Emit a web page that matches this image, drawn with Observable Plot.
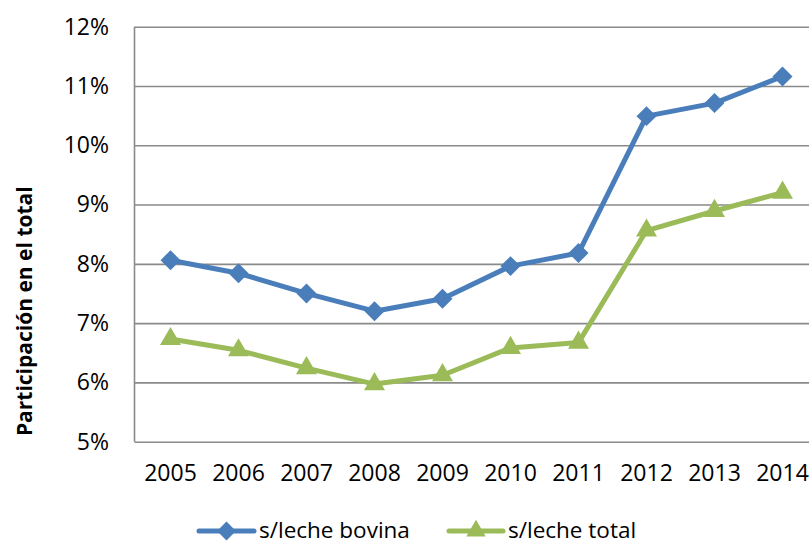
<!DOCTYPE html>
<html>
<head>
<meta charset="utf-8">
<script src="https://cdn.jsdelivr.net/npm/d3@7"></script>
<script src="https://cdn.jsdelivr.net/npm/@observablehq/plot@0.6"></script>
<style>
  html, body { margin: 0; padding: 0; background: #fff; overflow: hidden; }
  #chart { width: 809px; height: 545px; position: relative; font-family: "Open Sans", sans-serif; }
  #legend { position: absolute; left: 0; top: 490px; }
</style>
</head>
<body>
<div id="chart"></div>
<script>
const years = ["2005","2006","2007","2008","2009","2010","2011","2012","2013","2014"];
const bovina = [8.07, 7.85, 7.51, 7.21, 7.42, 7.97, 8.19, 10.50, 10.72, 11.17];
const total  = [6.74, 6.55, 6.25, 5.98, 6.13, 6.59, 6.68, 8.57, 8.90, 9.21];
const yTicks = [5, 6, 7, 8, 9, 10, 11, 12];
const seriesNames = ["s/leche bovina", "s/leche total"];
const colors = ["#4a7ebb", "#9bbb59"];
const yLabel = "Participación en el total";

const rows = [];
years.forEach((yr, i) => {
  rows.push({year: yr, value: bovina[i], serie: seriesNames[0]});
  rows.push({year: yr, value: total[i], serie: seriesNames[1]});
});
const rowsB = rows.filter(d => d.serie === seriesNames[0]);
const rowsT = rows.filter(d => d.serie === seriesNames[1]);

const plot = Plot.plot({
  width: 809,
  height: 490,
  marginLeft: 134.5,
  marginRight: 0,
  marginTop: 26.7,
  marginBottom: 48.3,
  style: {fontFamily: "Open Sans, sans-serif", fontSize: "23px", color: "#000", background: "#fff", overflow: "visible"},
  x: {type: "point", domain: years, range: [134.5, 817.5], padding: 0.5},
  y: {domain: [5, 12], range: [441.7, 26.7]},
  marks: [
    Plot.ruleY(yTicks, {stroke: "#8a8a8a", strokeWidth: 1.6}),
    Plot.axisY({ticks: yTicks, tickSize: 0, tickPadding: 26, tickFormat: d => d + "%", label: null, fontSize: 23}),
    Plot.axisX({tickSize: 0, tickPadding: 22, label: null, fontSize: 23}),
    Plot.line(rowsB, {x: "year", y: "value", stroke: colors[0], strokeWidth: 5}),
    Plot.line(rowsT, {x: "year", y: "value", stroke: colors[1], strokeWidth: 5}),
    Plot.dot(rowsB, {x: "year", y: "value", symbol: "diamond2", r: 9, fill: colors[0], stroke: "none"}),
    Plot.dot(rowsT, {x: "year", y: "value", symbol: "triangle", r: 7.8, fill: colors[1], stroke: "none"}),
    Plot.text([yLabel], {frameAnchor: "left", rotate: -90, dx: -110, dy: 76.5, fontWeight: "bold", fontSize: 21, fill: "#000", textAnchor: "middle", lineAnchor: "middle"})
  ]
});
// vertical axis line on the left
const svgNS = "http://www.w3.org/2000/svg";
const vline = document.createElementNS(svgNS, "line");
vline.setAttribute("x1", 134.5); vline.setAttribute("x2", 134.5);
vline.setAttribute("y1", 26.7); vline.setAttribute("y2", 441.7);
vline.setAttribute("stroke", "#8a8a8a"); vline.setAttribute("stroke-width", 1.6);
plot.appendChild(vline);
document.getElementById("chart").appendChild(plot);

// Legend (below the SVG)
const leg = document.createElementNS(svgNS, "svg");
leg.setAttribute("id", "legend");
leg.setAttribute("width", 809); leg.setAttribute("height", 55);
const items = [
  {x0: 199, x1: 254, tx: 259, sym: "diamond2", r: 8.5},
  {x0: 449, x1: 503, tx: 508, sym: "triangle", r: 7.2}
];
const cy = 41;
items.forEach((it, i) => {
  const l = document.createElementNS(svgNS, "line");
  l.setAttribute("x1", it.x0); l.setAttribute("x2", it.x1);
  l.setAttribute("y1", cy); l.setAttribute("y2", cy);
  l.setAttribute("stroke", colors[i]); l.setAttribute("stroke-width", 5);
  l.setAttribute("stroke-linecap", "round");
  leg.appendChild(l);
  const p = document.createElementNS(svgNS, "path");
  const symType = it.sym === "diamond2" ? d3.symbolDiamond2 : d3.symbolTriangle;
  p.setAttribute("d", d3.symbol(symType, Math.PI * it.r * it.r)());
  p.setAttribute("transform", `translate(${(it.x0 + it.x1) / 2},${cy})`);
  p.setAttribute("fill", colors[i]);
  leg.appendChild(p);
  const t = document.createElementNS(svgNS, "text");
  t.setAttribute("x", it.tx); t.setAttribute("y", cy + 7);
  t.setAttribute("font-family", "Open Sans, sans-serif");
  t.setAttribute("font-size", 22.5);
  t.setAttribute("fill", "#000");
  t.textContent = seriesNames[i];
  leg.appendChild(t);
});
document.getElementById("chart").appendChild(leg);
</script>
</body>
</html>
